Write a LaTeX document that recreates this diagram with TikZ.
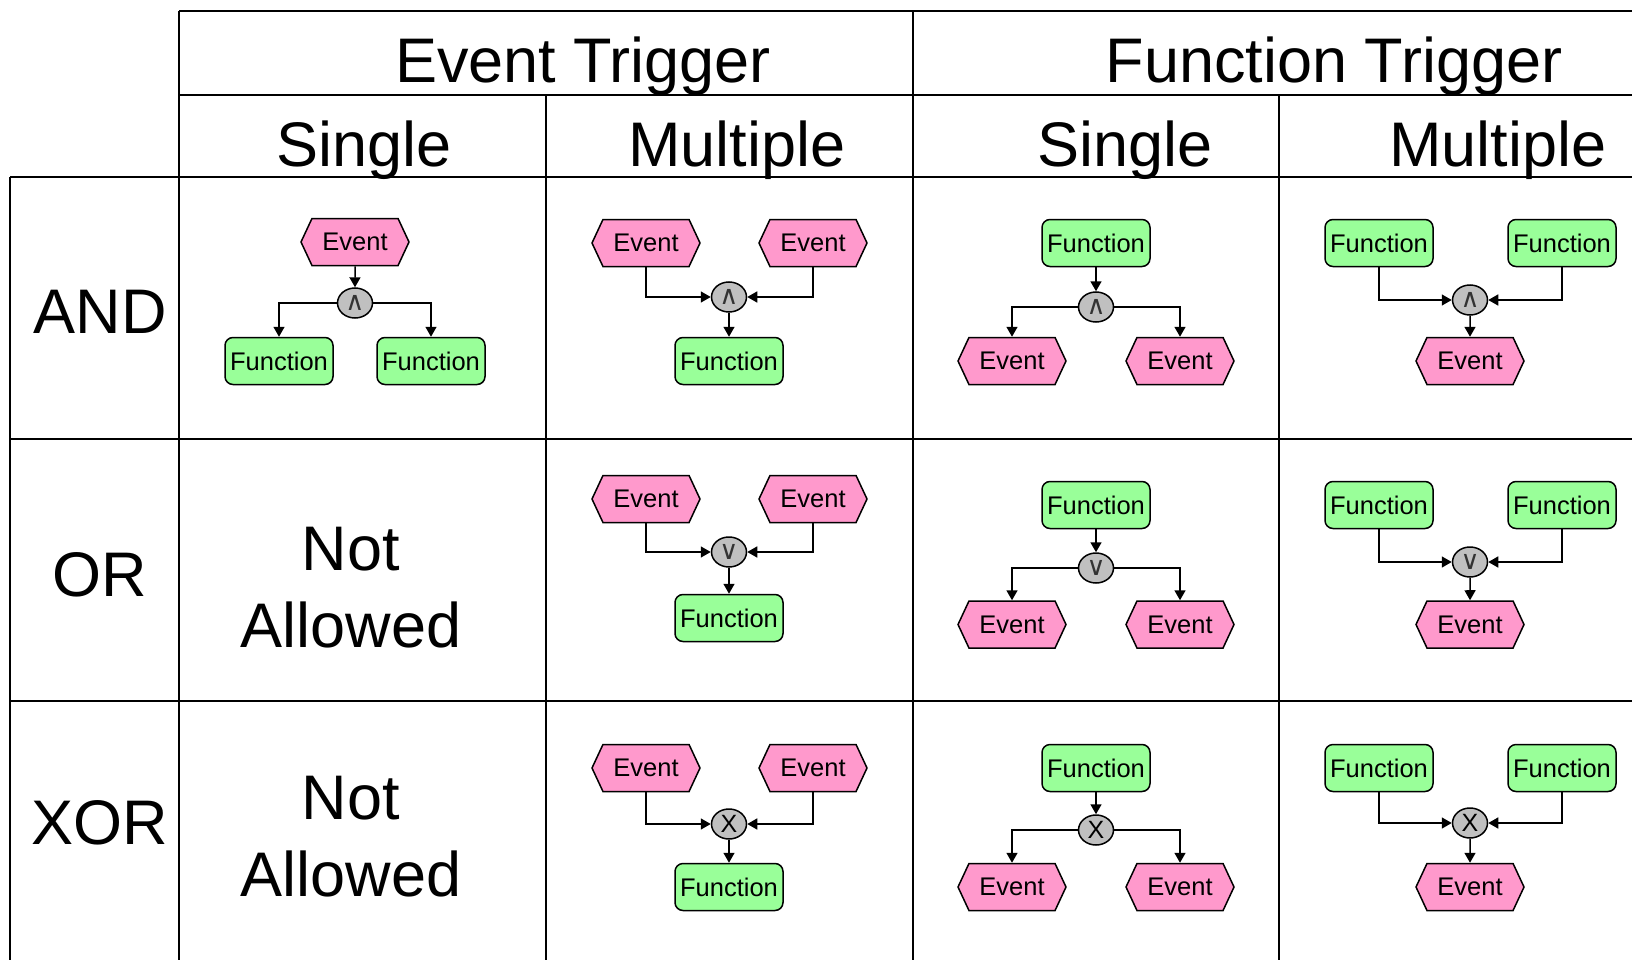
\documentclass[tikz,border=0pt]{standalone}
\usepackage{fontspec}
\setmainfont{Liberation Sans}
\newfontfamily\gatefont{DejaVu Sans}
\usepackage{xcolor}
\usepackage{tikz}
\usetikzlibrary{shapes, arrows.meta, positioning}

\definecolor{evpink}{HTML}{FF99CC}
\definecolor{fngreen}{HTML}{99FF99}
\definecolor{gtgray}{HTML}{C0C0C0}

\begin{document}
\begin{tikzpicture}[x=1pt, y=-1pt, >={Triangle[width=11pt, length=10pt]},
    tbl/.style={line width=2pt},
    big/.style={font=\fontsize{63}{77}\selectfont, anchor=base, align=center},
    ev/.style={signal, signal to=east and west, signal pointer angle=130, draw, line width=1.5pt,
        fill=evpink, minimum width=108pt, minimum height=47pt, inner sep=0pt, font=\fontsize{25.5}{30}\selectfont},
    fn/.style={rectangle, rounded corners=8pt, draw, line width=1.5pt,
        fill=fngreen, minimum width=108pt, minimum height=47pt, inner sep=0pt, font=\fontsize{25.5}{30}\selectfont},
    gate/.style={ellipse, draw, line width=1.5pt, fill=gtgray, minimum width=35pt, minimum height=30pt, inner sep=0pt},
    andg/.style={gate, font=\gatefont\fontsize{26}{28}\selectfont, text=black!80},
    xorg/.style={gate, font=\fontsize{25}{28}\selectfont},
    link/.style={->, line width=1.5pt}]
    \useasboundingbox (0,0) rectangle (1632,960);

    % Table
    \draw [tbl] (179,11) -- (1650,11);
    \draw [tbl] (179,95) -- (1650,95);
    \draw [tbl] (10,177) -- (1650,177);
    \draw [tbl] (10,439) -- (1650,439);
    \draw [tbl] (10,701) -- (1650,701);
    \draw [tbl] (10,177) -- (10,975);
    \draw [tbl] (179,11) -- (179,975);
    \draw [tbl] (546,95) -- (546,975);
    \draw [tbl] (913,11) -- (913,975);
    \draw [tbl] (1279,95) -- (1279,975);

    % Headers
    \node [big] (evtrig) at (583,83) {Event Trigger};
    \node [big] (fntrig) at (1334,83) {Function Trigger};
    \node [big] (evsingle) at (364,166.5) {Single};
    \node [big] (evmulti) at (737,166.5) {Multiple};
    \node [big] (fnsingle) at (1125,166.5) {Single};
    \node [big] (fnmulti) at (1498,166.5) {Multiple};

    % Row labels
    \node [big] (rand) at (100,333) {AND};
    \node [big] (ror) at (100,596) {OR};
    \node [big] (rxor) at (100,844) {XOR};

    % Not allowed
    \node [big] (na1) at (351,647) {Not\\Allowed};
    \node [big] (na2) at (351,896) {Not\\Allowed};

    % AND / event single
    \node [ev] (a1ev) at (355,242) {Event};
    \node [andg] (a1g) at (355,303) {∧};
    \node [fn] (a1fl) at (279,361) {Function};
    \node [fn] (a1fr) at (431,361) {Function};
    \draw [link] (a1ev) -- (a1g);
    \draw [link] (a1g.west) -| (a1fl.north);
    \draw [link] (a1g.east) -| (a1fr.north);

    % AND / event multiple
    \node [ev] (a2el) at (646,243) {Event};
    \node [ev] (a2er) at (813,243) {Event};
    \node [andg] (a2g) at (729,297) {∧};
    \node [fn] (a2f) at (729,361) {Function};
    \draw [link] (a2el.south) |- (a2g.west);
    \draw [link] (a2er.south) |- (a2g.east);
    \draw [link] (a2g) -- (a2f);

    % AND / function single
    \node [fn] (a3f) at (1096,243) {Function};
    \node [andg] (a3g) at (1096,307) {∧};
    \node [ev] (a3el) at (1012,361) {Event};
    \node [ev] (a3er) at (1180,361) {Event};
    \draw [link] (a3f) -- (a3g);
    \draw [link] (a3g.west) -| (a3el.north);
    \draw [link] (a3g.east) -| (a3er.north);

    % AND / function multiple
    \node [fn] (a4fl) at (1379,243) {Function};
    \node [fn] (a4fr) at (1562,243) {Function};
    \node [andg] (a4g) at (1470,300) {∧};
    \node [ev] (a4e) at (1470,361) {Event};
    \draw [link] (a4fl.south) |- (a4g.west);
    \draw [link] (a4fr.south) |- (a4g.east);
    \draw [link] (a4g) -- (a4e);

    % OR / event multiple
    \node [ev] (o2el) at (646,499) {Event};
    \node [ev] (o2er) at (813,499) {Event};
    \node [andg] (o2g) at (729,552) {∨};
    \node [fn] (o2f) at (729,618) {Function};
    \draw [link] (o2el.south) |- (o2g.west);
    \draw [link] (o2er.south) |- (o2g.east);
    \draw [link] (o2g) -- (o2f);

    % OR / function single
    \node [fn] (o3f) at (1096,505) {Function};
    \node [andg] (o3g) at (1096,568) {∨};
    \node [ev] (o3el) at (1012,624.5) {Event};
    \node [ev] (o3er) at (1180,624.5) {Event};
    \draw [link] (o3f) -- (o3g);
    \draw [link] (o3g.west) -| (o3el.north);
    \draw [link] (o3g.east) -| (o3er.north);

    % OR / function multiple
    \node [fn] (o4fl) at (1379,505) {Function};
    \node [fn] (o4fr) at (1562,505) {Function};
    \node [andg] (o4g) at (1470,562) {∨};
    \node [ev] (o4e) at (1470,624.5) {Event};
    \draw [link] (o4fl.south) |- (o4g.west);
    \draw [link] (o4fr.south) |- (o4g.east);
    \draw [link] (o4g) -- (o4e);

    % XOR / event multiple
    \node [ev] (x2el) at (646,768) {Event};
    \node [ev] (x2er) at (813,768) {Event};
    \node [xorg] (x2g) at (729,824) {X};
    \node [fn] (x2f) at (729,887) {Function};
    \draw [link] (x2el.south) |- (x2g.west);
    \draw [link] (x2er.south) |- (x2g.east);
    \draw [link] (x2g) -- (x2f);

    % XOR / function single
    \node [fn] (x3f) at (1096,768) {Function};
    \node [xorg] (x3g) at (1096,830) {X};
    \node [ev] (x3el) at (1012,887) {Event};
    \node [ev] (x3er) at (1180,887) {Event};
    \draw [link] (x3f) -- (x3g);
    \draw [link] (x3g.west) -| (x3el.north);
    \draw [link] (x3g.east) -| (x3er.north);

    % XOR / function multiple
    \node [fn] (x4fl) at (1379,768) {Function};
    \node [fn] (x4fr) at (1562,768) {Function};
    \node [xorg] (x4g) at (1470,823) {X};
    \node [ev] (x4e) at (1470,887) {Event};
    \draw [link] (x4fl.south) |- (x4g.west);
    \draw [link] (x4fr.south) |- (x4g.east);
    \draw [link] (x4g) -- (x4e);

\end{tikzpicture}
\end{document}
